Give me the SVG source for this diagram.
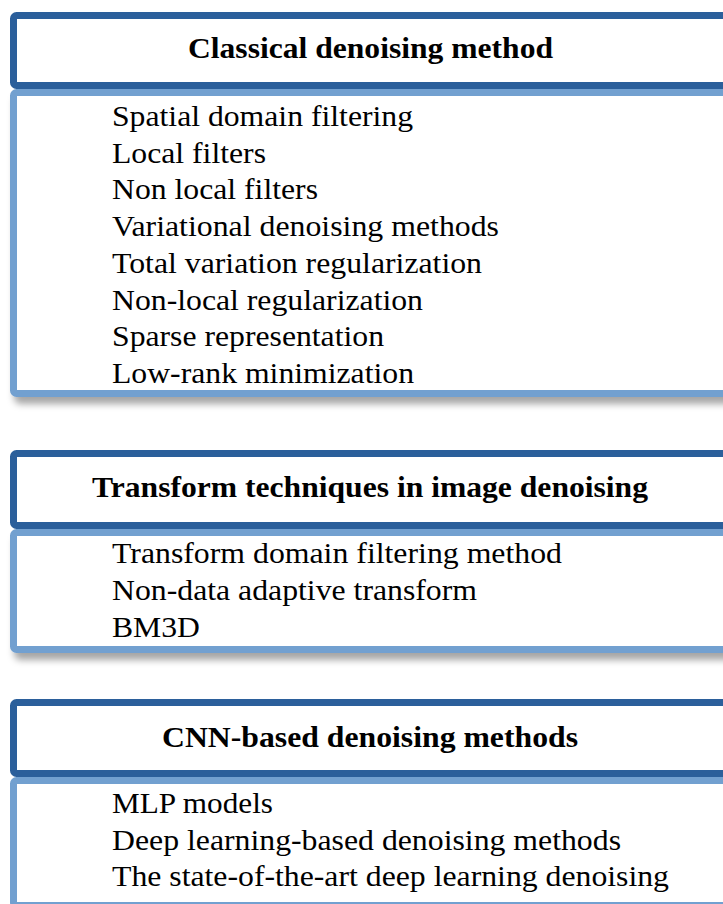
<svg xmlns="http://www.w3.org/2000/svg" width="723" height="904" viewBox="0 0 723 904">
<defs>
<filter id="sh" x="-5%" y="-10%" width="115%" height="130%">
<feDropShadow dx="4" dy="7" stdDeviation="3.5" flood-color="#000" flood-opacity="0.35"/>
</filter>
</defs>
<style>
.hd{fill:#fff;stroke:#2b5f9b;stroke-width:7}
.bd{fill:#fff;stroke:#72a0d0;stroke-width:7}
.t{font-family:"Liberation Serif","Times New Roman",serif;font-size:29px;fill:#000}
.h{font-family:"Liberation Serif","Times New Roman",serif;font-size:29px;font-weight:bold;fill:#000;text-anchor:middle}
</style>
<rect width="723" height="904" fill="#fff"/>
<g id="box1">
<rect class="bd" x="13.5" y="92.5" width="730" height="301" rx="3" filter="url(#sh)"/>
<rect class="hd" x="13.5" y="15.5" width="730" height="70" rx="3"/>
<text class="h" x="370.5" y="58" textLength="365" lengthAdjust="spacingAndGlyphs">Classical denoising method</text>
<text class="t" x="112" y="126" textLength="301" lengthAdjust="spacingAndGlyphs">Spatial domain filtering</text>
<text class="t" x="112" y="162.7" textLength="154" lengthAdjust="spacingAndGlyphs">Local filters</text>
<text class="t" x="112" y="199.4" textLength="206" lengthAdjust="spacingAndGlyphs">Non local filters</text>
<text class="t" x="112" y="236.1" textLength="387" lengthAdjust="spacingAndGlyphs">Variational denoising methods</text>
<text class="t" x="112" y="272.8" textLength="370" lengthAdjust="spacingAndGlyphs">Total variation regularization</text>
<text class="t" x="112" y="309.5" textLength="311" lengthAdjust="spacingAndGlyphs">Non-local regularization</text>
<text class="t" x="112" y="346.2" textLength="272" lengthAdjust="spacingAndGlyphs">Sparse representation</text>
<text class="t" x="112" y="383" textLength="302" lengthAdjust="spacingAndGlyphs">Low-rank minimization</text>
</g>
<g id="box2">
<rect class="bd" x="13.5" y="532.5" width="730" height="117" rx="3" filter="url(#sh)"/>
<rect class="hd" x="13.5" y="453.5" width="730" height="72" rx="3"/>
<text class="h" x="370" y="497" textLength="556" lengthAdjust="spacingAndGlyphs">Transform techniques in image denoising</text>
<text class="t" x="112" y="563" textLength="450" lengthAdjust="spacingAndGlyphs">Transform domain filtering method</text>
<text class="t" x="112" y="600" textLength="365" lengthAdjust="spacingAndGlyphs">Non-data adaptive transform</text>
<text class="t" x="112" y="636.5" textLength="88" lengthAdjust="spacingAndGlyphs">BM3D</text>
</g>
<g id="box3">
<rect class="bd" x="13.5" y="780.5" width="730" height="125" rx="3"/>
<rect class="hd" x="13.5" y="702.5" width="730" height="71" rx="3"/>
<text class="h" x="370" y="747" textLength="416" lengthAdjust="spacingAndGlyphs">CNN-based denoising methods</text>
<text class="t" x="112" y="813" textLength="161" lengthAdjust="spacingAndGlyphs">MLP models</text>
<text class="t" x="112" y="849.5" textLength="509" lengthAdjust="spacingAndGlyphs">Deep learning-based denoising methods</text>
<text class="t" x="112" y="886" textLength="557" lengthAdjust="spacingAndGlyphs">The state-of-the-art deep learning denoising</text>
</g>
<g id="connectors"/>
</svg>
